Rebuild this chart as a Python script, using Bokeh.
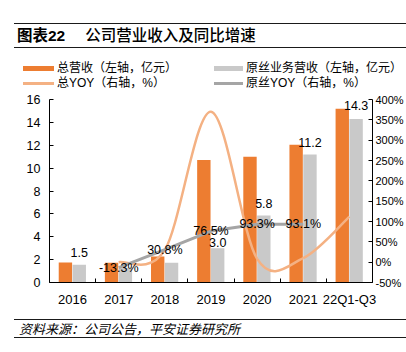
from bokeh.plotting import figure
from bokeh.models import (Range1d, LinearAxis, FixedTicker, PrintfTickFormatter,
                          ColumnDataSource, Div)
from bokeh.transform import dodge
from bokeh.layouts import column
from bokeh.embed import file_html
from bokeh.resources import INLINE
from bokeh.core.properties import value

# ---------------- data ----------------
years = ["2016", "2017", "2018", "2019", "2020", "2021", "22Q1-Q3"]
total_rev = [1.75, 1.73, 2.28, 10.7, 11.0, 12.05, 15.2]          # 总营收 (亿元)
fiber_rev = [1.55, 1.30, 1.72, 3.0, 5.85, 11.2, 14.3]            # 原丝业务营收 (亿元)
fiber_rev_labels = ["1.5", "", "", "3.0", "5.8", "11.2", "14.3"]
total_yoy = [None, 0.0, 30.0, 370.0, 8.0, 10.0, 112.0]           # 总YOY (%)
fiber_yoy = [None, -13.3, 30.8, 76.5, 93.3, 93.1, None]          # 原丝YOY (%)
fiber_yoy_labels = ["", "-13.3%", "30.8%", "76.5%", "93.3%", "93.1%", ""]
left_ticks = [0, 2, 4, 6, 8, 10, 12, 14, 16]
right_ticks = [-50, 0, 50, 100, 150, 200, 250, 300, 350, 400]
legend_labels = ["总营收（左轴，亿元）", "总YOY（右轴，%）", "原丝业务营收（左轴，亿元）", "原丝YOY（右轴，%）"]

ORANGE = "#ED7D31"
GREY_BAR = "#C9C9C9"
LIGHT_ORANGE = "#F4B183"
GREY_LINE = "#A5A5A5"
LATIN = "Liberation Sans, Noto Sans CJK SC, sans-serif"
CSS_FONT = "font-family:'Liberation Sans','Noto Sans CJK SC',sans-serif;color:#000;"

idx = list(range(len(years)))

# ---------------- main chart ----------------
p = figure(width=406, height=220, x_range=Range1d(-0.5, 6.5), y_range=Range1d(0, 16),
           output_backend="svg", toolbar_location=None,
           min_border_left=49, min_border_right=32, min_border_top=7, min_border_bottom=30)
p.extra_y_ranges = {"yoy": Range1d(-50, 400)}
p.xgrid.visible = False
p.ygrid.visible = False
p.outline_line_color = None
p.background_fill_color = "white"
p.border_fill_color = "white"

p.xaxis.ticker = FixedTicker(ticks=idx, minor_ticks=[i - 0.5 for i in range(len(years) + 1)])
p.xaxis.major_label_overrides = {i: y for i, y in zip(idx, years)}
p.xaxis.major_tick_in = 0
p.xaxis.major_tick_out = 0
p.xaxis.minor_tick_in = 4
p.xaxis.minor_tick_out = 0
p.xaxis.major_label_standoff = 9
p.xaxis.major_label_text_font_size = "13px"

p.yaxis.ticker = FixedTicker(ticks=left_ticks)
p.yaxis.major_tick_in = 4
p.yaxis.major_tick_out = 0
p.yaxis.major_label_standoff = 9
p.yaxis.major_label_text_font_size = "12.5px"

ra = LinearAxis(y_range_name="yoy", ticker=FixedTicker(ticks=right_ticks),
                formatter=PrintfTickFormatter(format="%d%%"))
ra.major_tick_in = 4
ra.major_tick_out = 0
ra.major_label_standoff = 3
ra.major_label_text_font_size = "11px"
p.add_layout(ra, "right")

for ax in p.xaxis + p.yaxis + [ra]:
    ax.axis_line_color = "#000000"
    ax.axis_line_width = 1
    ax.major_tick_line_color = "#000000"
    ax.major_label_text_color = "#000000"
    ax.major_label_text_font = LATIN
p.xaxis.minor_tick_line_color = "#000000"
p.yaxis.minor_tick_line_color = None
ra.minor_tick_line_color = None

src = ColumnDataSource(dict(x=idx, total=total_rev, fiber=fiber_rev, flab=fiber_rev_labels,
                            dy=[-12, -12, -12, -6, -12, -12, -13]))

p.vbar(x=dodge("x", -0.155, range=p.x_range), top="total", width=0.29, source=src,
       fill_color=ORANGE, line_color=None)
p.vbar(x=dodge("x", 0.145, range=p.x_range), top="fiber", width=0.29, source=src,
       fill_color=GREY_BAR, line_color=None)

# smoothed 总YOY curve (Catmull-Rom through the data points, drawn as bezier segments)
tx = [i for i, v in zip(idx, total_yoy) if v is not None]
ty = [v for v in total_yoy if v is not None]
n = len(tx)
seg = dict(x0=[], y0=[], x1=[], y1=[], cx0=[], cy0=[], cx1=[], cy1=[])
for i in range(n - 1):
    xm, ym = (tx[i - 1], ty[i - 1]) if i > 0 else (tx[i], ty[i])
    xp, yp = (tx[i + 2], ty[i + 2]) if i + 2 < n else (tx[i + 1], ty[i + 1])
    seg["x0"].append(tx[i]); seg["y0"].append(ty[i])
    seg["x1"].append(tx[i + 1]); seg["y1"].append(ty[i + 1])
    seg["cx0"].append(tx[i] + (tx[i + 1] - xm) / 6); seg["cy0"].append(ty[i] + (ty[i + 1] - ym) / 6)
    seg["cx1"].append(tx[i + 1] - (xp - tx[i]) / 6); seg["cy1"].append(ty[i + 1] - (yp - ty[i]) / 6)
p.bezier(x0="x0", y0="y0", x1="x1", y1="y1", cx0="cx0", cy0="cy0", cx1="cx1", cy1="cy1",
         source=ColumnDataSource(seg), y_range_name="yoy", line_color=LIGHT_ORANGE, line_width=2.5)

fx = [i for i, v in zip(idx, fiber_yoy) if v is not None]
fy = [v for v in fiber_yoy if v is not None]
p.line(fx, fy, y_range_name="yoy", line_color=GREY_LINE, line_width=3)

p.text(x=dodge("x", 0.145, range=p.x_range), y="fiber", text="flab", y_offset="dy", source=src,
       text_align="center", text_baseline="middle", text_font=value(LATIN),
       text_font_size="12.5px", text_color="#000000")
p.text(x=idx, y=[v if v is not None else 0 for v in fiber_yoy], text=fiber_yoy_labels,
       y_range_name="yoy", text_align="center", text_baseline="middle",
       text_font=value(LATIN), text_font_size="12.5px", text_color="#000000")

# ---------------- header / legend / footer ----------------
header = Div(text=f"""<div style="position:relative;width:406px;height:50px;{CSS_FONT}">
<div style="position:absolute;left:14px;width:392px;top:23px;height:0;border-top:1.6px solid #1a1a1a;"></div>
<div style="position:absolute;left:17px;top:27px;font-size:15.5px;line-height:18px;white-space:nowrap;"><b>图表22</b><span style="margin-left:20px;font-weight:500;">公司营业收入及同比增速</span></div>
<div style="position:absolute;left:14px;width:392px;top:47px;height:0;border-top:1px solid #1a1a1a;"></div></div>""",
             width=406, height=50, margin=0)


def key(left, top, width, height, color, label, text_left, text_top):
    return (f'<div style="position:absolute;left:{left}px;top:{top}px;width:{width}px;height:{height}px;background:{color};"></div>'
            f'<div style="position:absolute;left:{text_left}px;top:{text_top}px;font-size:12px;line-height:16px;white-space:nowrap;">{label}</div>')


legend_html = (f'<div style="position:relative;width:406px;height:42px;{CSS_FONT}">'
               + key(23, 16, 31, 5, ORANGE, legend_labels[0], 57, 10)
               + key(23, 32, 31, 2.5, LIGHT_ORANGE, legend_labels[1], 57, 25)
               + key(214, 16, 29, 5, GREY_BAR, legend_labels[2], 246, 10)
               + key(214, 32, 29, 3, GREY_LINE, legend_labels[3], 246, 25)
               + '</div>')
legend_div = Div(text=legend_html, width=406, height=42, margin=0)

footer = Div(text=f"""<div style="position:relative;width:406px;height:40px;{CSS_FONT}">
<div style="position:absolute;left:14px;width:392px;top:7px;height:0;border-top:1.6px solid #1a1a1a;"></div>
<div style="position:absolute;left:19px;top:10px;font-size:13px;line-height:16px;font-style:italic;white-space:nowrap;">资料来源：公司公告，平安证券研究所</div>
<div style="position:absolute;left:14px;width:392px;top:25px;height:0;border-top:1px solid #1a1a1a;"></div></div>""",
             width=406, height=40, margin=0)

layout = column(header, legend_div, p, footer, spacing=0)
open("out.html", "w").write(file_html(layout, INLINE))
